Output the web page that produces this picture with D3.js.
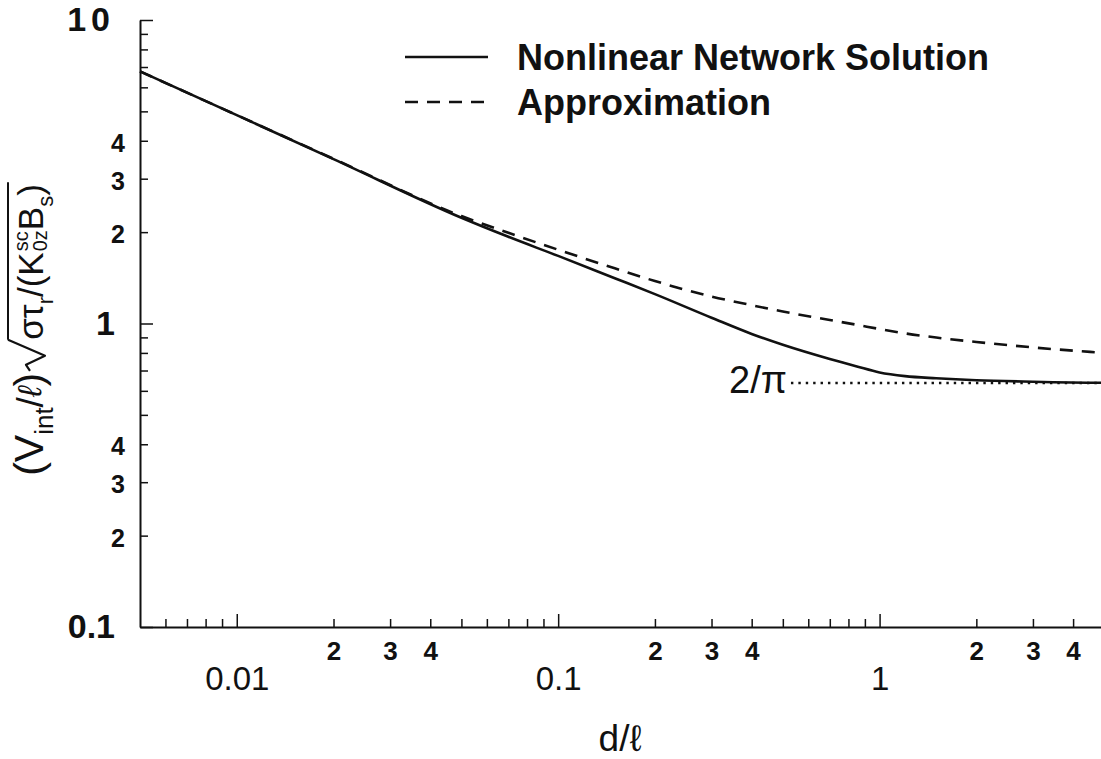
<!DOCTYPE html>
<html>
<head>
<meta charset="utf-8">
<script src="https://cdn.jsdelivr.net/npm/d3@7"></script>
<style>
  body { margin: 0; background: #fff; }
  svg { display: block; font-family: "Liberation Sans", Arial, Helvetica, sans-serif; }
</style>
</head>
<body>
<svg id="chart" width="1101" height="759"></svg>
<script>
// values (log-log)
const dValues = [0.005, 0.01, 0.02, 0.05, 0.07, 0.1, 0.15, 0.2, 0.3, 0.4, 0.5, 0.7, 0.85, 1, 1.2, 1.5, 2, 3, 5, 10];
const networkSolution = [6.77, 4.86, 3.48, 2.23, 1.93, 1.67, 1.41, 1.25, 1.045, 0.924, 0.851, 0.764, 0.722, 0.690, 0.671, 0.660, 0.650, 0.643, 0.638, 0.637];
const approximation = [6.77, 4.86, 3.49, 2.26, 1.99, 1.75, 1.52, 1.38, 1.227, 1.149, 1.095, 1.027, 0.990, 0.959, 0.928, 0.899, 0.869, 0.834, 0.800, 0.760];
const asymptote = 2 / Math.PI;
const asymptoteRange = [0.53, 10];

// ticks
const xMajorTicks = [0.01, 0.1, 1, 10];
const xMajorLabelled = [0.01, 0.1, 1];
const xMinorTicks = [0.006, 0.007, 0.008, 0.009, 0.02, 0.03, 0.04, 0.05, 0.06, 0.07, 0.08, 0.09,
                     0.2, 0.3, 0.4, 0.5, 0.6, 0.7, 0.8, 0.9, 2, 3, 4, 5, 6, 7, 8, 9];
const xMinorLabelled = [0.02, 0.03, 0.04, 0.2, 0.3, 0.4, 2, 3, 4];
const yMajorTicks = [0.1, 1, 10];
const yMinorTicks = [0.2, 0.3, 0.4, 0.5, 0.6, 0.7, 0.8, 0.9, 2, 3, 4, 5, 6, 7, 8, 9];
const yMinorLabelled = [0.2, 0.3, 0.4, 2, 3, 4];

const legendItems = [
  { label: 'Nonlinear Network Solution', dash: null },
  { label: 'Approximation', dash: '13,9' }
];

const svg = d3.select('#chart');

const x = d3.scaleLog().domain([0.005, 10]).range([140, 1201]);
const y = d3.scaleLog().domain([0.1, 10]).range([627, 20]);

const lead = d => String(Math.round(d / Math.pow(10, Math.floor(Math.log10(d) + 1e-9))));

// x axis: minor ticks + line
const gxMinor = svg.append('g')
  .attr('transform', 'translate(0,627)')
  .call(d3.axisBottom(x).tickValues(xMinorTicks).tickSizeInner(-8).tickSizeOuter(0)
    .tickPadding(15).tickFormat(d => xMinorLabelled.includes(d) ? lead(d) : ''));
const gxMajor = svg.append('g')
  .attr('transform', 'translate(0,627)')
  .call(d3.axisBottom(x).tickValues(xMajorTicks).tickSizeInner(-13).tickSizeOuter(0)
    .tickPadding(40).tickFormat(d => xMajorLabelled.includes(d) ? d3.format('~g')(d) : ''));
gxMajor.select('.domain').remove();

gxMinor.selectAll('text').attr('font-size', 26).attr('font-weight', 'bold').attr('fill', '#111');
gxMajor.selectAll('text').attr('font-size', 33).attr('fill', '#111');

// y axis
const gyMinor = svg.append('g')
  .attr('transform', 'translate(140,0)')
  .call(d3.axisLeft(y).tickValues(yMinorTicks).tickSizeInner(-8).tickSizeOuter(0)
    .tickPadding(15).tickFormat(d => yMinorLabelled.includes(d) ? lead(d) : ''));
const gyMajor = svg.append('g')
  .attr('transform', 'translate(140,0)')
  .call(d3.axisLeft(y).tickValues(yMajorTicks).tickSizeInner(-13).tickSizeOuter(0)
    .tickPadding(25).tickFormat(d3.format('~g')));
gyMajor.select('.domain').remove();

gyMinor.selectAll('text').attr('font-size', 25).attr('font-weight', 'bold').attr('fill', '#111')
  .attr('dy', '0.42em');
gyMajor.selectAll('text').attr('font-size', 34).attr('font-weight', 'bold').attr('fill', '#111')
  .attr('letter-spacing', d => d === 10 ? 5 : null);

svg.selectAll('.domain').attr('stroke', '#111').attr('stroke-width', 2);
svg.selectAll('.tick line').attr('stroke', '#111').attr('stroke-width', 1.5);

// curves
const line = d3.line()
  .x(d => x(d[0]))
  .y(d => y(d[1]))
  .curve(d3.curveMonotoneX);

svg.append('path')
  .datum(dValues.map((d, i) => [d, networkSolution[i]]))
  .attr('d', line)
  .attr('fill', 'none')
  .attr('stroke', '#111')
  .attr('stroke-width', 2.6);

svg.append('path')
  .datum(dValues.map((d, i) => [d, approximation[i]]))
  .attr('d', line)
  .attr('fill', 'none')
  .attr('stroke', '#111')
  .attr('stroke-width', 2.6)
  .attr('stroke-dasharray', '13,9');

// 2/pi dotted asymptote
svg.append('line')
  .attr('x1', x(asymptoteRange[0])).attr('x2', x(asymptoteRange[1]))
  .attr('y1', y(asymptote)).attr('y2', y(asymptote))
  .attr('stroke', '#111')
  .attr('stroke-width', 2.4)
  .attr('stroke-dasharray', '2.4,5');

svg.append('text')
  .attr('x', x(asymptoteRange[0]) - 4)
  .attr('y', y(asymptote) + 10)
  .attr('text-anchor', 'end')
  .style('font-size', '38px')
  .attr('fill', '#111')
  .text('2/π');

// legend
const legend = svg.append('g').attr('transform', 'translate(405,57)');
const li = legend.selectAll('g').data(legendItems).enter().append('g')
  .attr('transform', (d, i) => `translate(0,${i * 45})`);
li.append('line')
  .attr('x1', 0).attr('x2', 83)
  .attr('stroke', '#111').attr('stroke-width', 2.6)
  .attr('stroke-dasharray', d => d.dash);
li.append('text')
  .attr('x', 112).attr('y', 13)
  .style('font-size', '36px').style('font-weight', 'bold')
  .attr('fill', '#111')
  .text(d => d.label);

// x title
svg.append('text')
  .attr('x', 620).attr('y', 751)
  .attr('text-anchor', 'middle')
  .style('font-size', '37px')
  .attr('fill', '#111')
  .text('d/ℓ');

// y title, laid out piece by piece (sub/superscripts + radical)
const yTitle = svg.append('g').attr('transform', 'translate(43,330) rotate(-90)');
const pieces = [
  { t: '(V', s: 41, dy: 0 },
  { t: 'int', s: 26, dy: 10 },
  { t: '/', s: 37, dy: 0 },
  { t: 'ℓ', s: 33, dy: -2, italic: true },
  { t: ')', s: 41, dy: 0 },
  { rad: 33 },
  { t: 'στ', s: 35, dy: 0 },
  { t: 'r', s: 22, dy: 10 },
  { t: '/(K', s: 35, dy: 0 },
  { stack: [{ t: 'sc', s: 20, dy: -15 }, { t: '0z', s: 20, dy: 4 }] },
  { t: 'B', s: 35, dy: 0 },
  { t: 's', s: 22, dy: 10 },
  { t: ')', s: 35, dy: 0 }
];
let cursor = 0, radStart = null;
const put = (p, at) => {
  const t = yTitle.append('text')
    .attr('x', at).attr('y', p.dy)
    .style('font-size', p.s + 'px')
    .style('font-style', p.italic ? 'italic' : null)
    .attr('fill', '#111')
    .text(p.t);
  return t.node().getComputedTextLength();
};
pieces.forEach(p => {
  if (p.rad) {
    const c = cursor + 2;
    yTitle.append('path')
      .attr('d', `M${c},-13 L${c + 6},-17 L${c + 15},2 L${c + p.rad - 2},-35`)
      .attr('fill', 'none').attr('stroke', '#111').attr('stroke-width', 2.2)
      .attr('stroke-linejoin', 'round');
    radStart = c + p.rad - 2;
    cursor += p.rad;
  } else if (p.stack) {
    cursor += d3.max(p.stack.map(q => put(q, cursor + 1))) + 1;
  } else {
    cursor += put(p, cursor);
  }
});
yTitle.append('line')
  .attr('x1', radStart).attr('x2', cursor + 2)
  .attr('y1', -35).attr('y2', -35)
  .attr('stroke', '#111').attr('stroke-width', 2);
// centre the whole title on the axis
yTitle.selectAll('text, line, path').attr('transform', `translate(${-cursor / 2},0)`);
</script>
</body>
</html>
